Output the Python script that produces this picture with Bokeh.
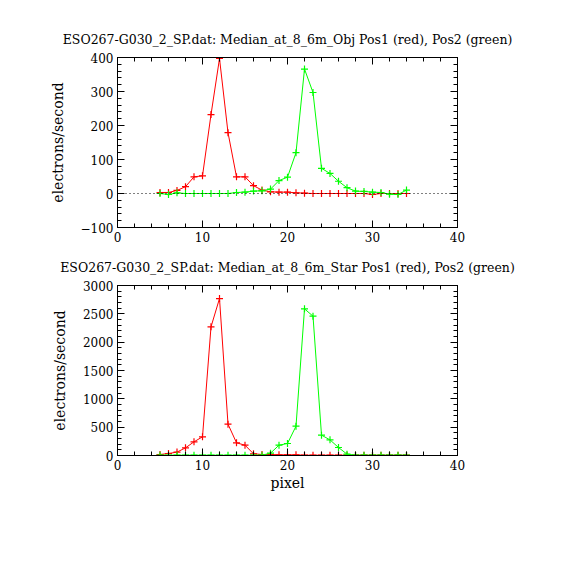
from bokeh.plotting import figure
from bokeh.models import Range1d, LinearAxis, Span, FixedTicker, CustomLabelingPolicy
from bokeh.layouts import column
from bokeh.embed import file_html
from bokeh.resources import INLINE

pixels = list(range(5, 35))

obj_pos1 = [3, 3, 9, 20, 49, 52, 232, 397, 179, 49, 49, 23, 10, 5, 4, 4, 2,
            1, 0, 0, 0, 0, 0, 0, 0, -3, 0, 0, 0, 0]
obj_pos2 = [0, -3, 2, 0, 0, 0, 0, 0, 0, 3, 4, 7, 8, 13, 38, 48, 120,
            366, 297, 74, 59, 36, 17, 7, 6, 4, 3, -2, -3, 10]

star_pos1 = [18, 35, 60, 135, 241, 330, 2270, 2770, 553, 224, 182, 30, 18, 18,
             12, 12, 12, 5, 5, 5, 5, 5, 5, 5, 5, 5, 5, 5, 5, 5]
star_pos2 = [5, 5, 5, 5, 5, 5, 5, 5, 5, 5, 5, 5, 5, 41, 182, 212, 518,
             2588, 2459, 359, 276, 141, 24, 5, 5, 5, 5, 5, 5, 5]

x_ticks = [0, 10, 20, 30, 40]
top_y_ticks = [-100, 0, 100, 200, 300, 400]
top_y_labels = {-100: "\u2212100"}
bot_y_ticks = [0, 500, 1000, 1500, 2000, 2500, 3000]

title_top = "ESO267-G030_2_SP.dat: Median_at_8_6m_Obj Pos1 (red), Pos2 (green)"
title_bot = "ESO267-G030_2_SP.dat: Median_at_8_6m_Star Pos1 (red), Pos2 (green)"

FONT = "DejaVu Serif"
RED = "#ff0000"
GREEN = "#00ff00"

NO_LABELS = CustomLabelingPolicy(code="""
for (const i of Array.from(indices)) { indices.unset(i) }
return indices
""")


def style_axis(ax, ticks, minor_n, show_labels=True):
    ax.ticker = FixedTicker(ticks=ticks,
                            minor_ticks=[ticks[0] + (ticks[1] - ticks[0]) * k / minor_n
                                         for k in range(0, minor_n * (len(ticks) - 1) + 1)])
    ax.major_tick_in = 7
    ax.major_tick_out = 0
    ax.minor_tick_in = 4
    ax.minor_tick_out = 0
    ax.axis_line_color = "black"
    ax.major_tick_line_color = "black"
    ax.minor_tick_line_color = "black"
    ax.major_label_text_font = FONT
    ax.major_label_text_font_size = "12px"
    ax.major_label_text_color = "black"
    ax.major_label_standoff = 4
    if not show_labels:
        ax.major_label_policy = NO_LABELS
        ax.major_label_text_font_size = "1px"
        ax.major_label_standoff = 0
    ax.axis_label_text_font = FONT
    ax.axis_label_text_font_size = "14px"
    ax.axis_label_text_font_style = "normal"
    ax.axis_label_text_color = "black"


def make_fig(title, ymin, yticks, y1, y2, xlabel, top_border, bottom_border, ylabels=None):
    p = figure(frame_width=340, frame_height=170,
               x_range=Range1d(0, 40), y_range=Range1d(ymin, yticks[-1]),
               output_backend="svg", toolbar_location=None,
               min_border_left=117, min_border_right=100,
               min_border_top=top_border, min_border_bottom=bottom_border,
               x_axis_location=None, y_axis_location=None)
    p.title.text = title
    p.title.text_font = FONT
    p.title.text_font_size = "12.5px"
    p.title.text_font_style = "normal"
    p.title.text_color = "black"
    p.title.align = "center"
    p.title.standoff = 13
    p.title.offset = -4
    p.grid.visible = False
    p.outline_line_color = "black"
    p.background_fill_color = "white"
    p.border_fill_color = "white"

    xb = LinearAxis(axis_label=xlabel)
    style_axis(xb, x_ticks, 5)
    xb.axis_label_standoff = 2
    p.add_layout(xb, "below")
    xa = LinearAxis()
    style_axis(xa, x_ticks, 5, show_labels=False)
    p.add_layout(xa, "above")
    yl = LinearAxis(axis_label="electrons/second")
    style_axis(yl, yticks, 5)
    yl.axis_label_standoff = 12
    if ylabels:
        yl.major_label_overrides = ylabels
    p.add_layout(yl, "left")
    yr = LinearAxis()
    style_axis(yr, yticks, 5, show_labels=False)
    p.add_layout(yr, "right")

    p.line(pixels, y1, line_color=RED, line_width=1)
    p.scatter(pixels, y1, marker="cross", size=7, line_color=RED, line_width=1.2)
    p.line(pixels, y2, line_color=GREEN, line_width=1)
    p.scatter(pixels, y2, marker="cross", size=7, line_color=GREEN, line_width=1.2)
    return p


top = make_fig(title_top, -100, top_y_ticks, obj_pos1, obj_pos2, None, 57, 20, top_y_labels)
top.add_layout(Span(location=0, dimension="width", line_color="black",
                    line_dash="1 3", line_width=1))
bot = make_fig(title_bot, 0, bot_y_ticks, star_pos1, star_pos2, "pixel", 38, 45)

layout = column(top, bot, spacing=0)
open("out.html", "w").write(file_html(layout, INLINE))
